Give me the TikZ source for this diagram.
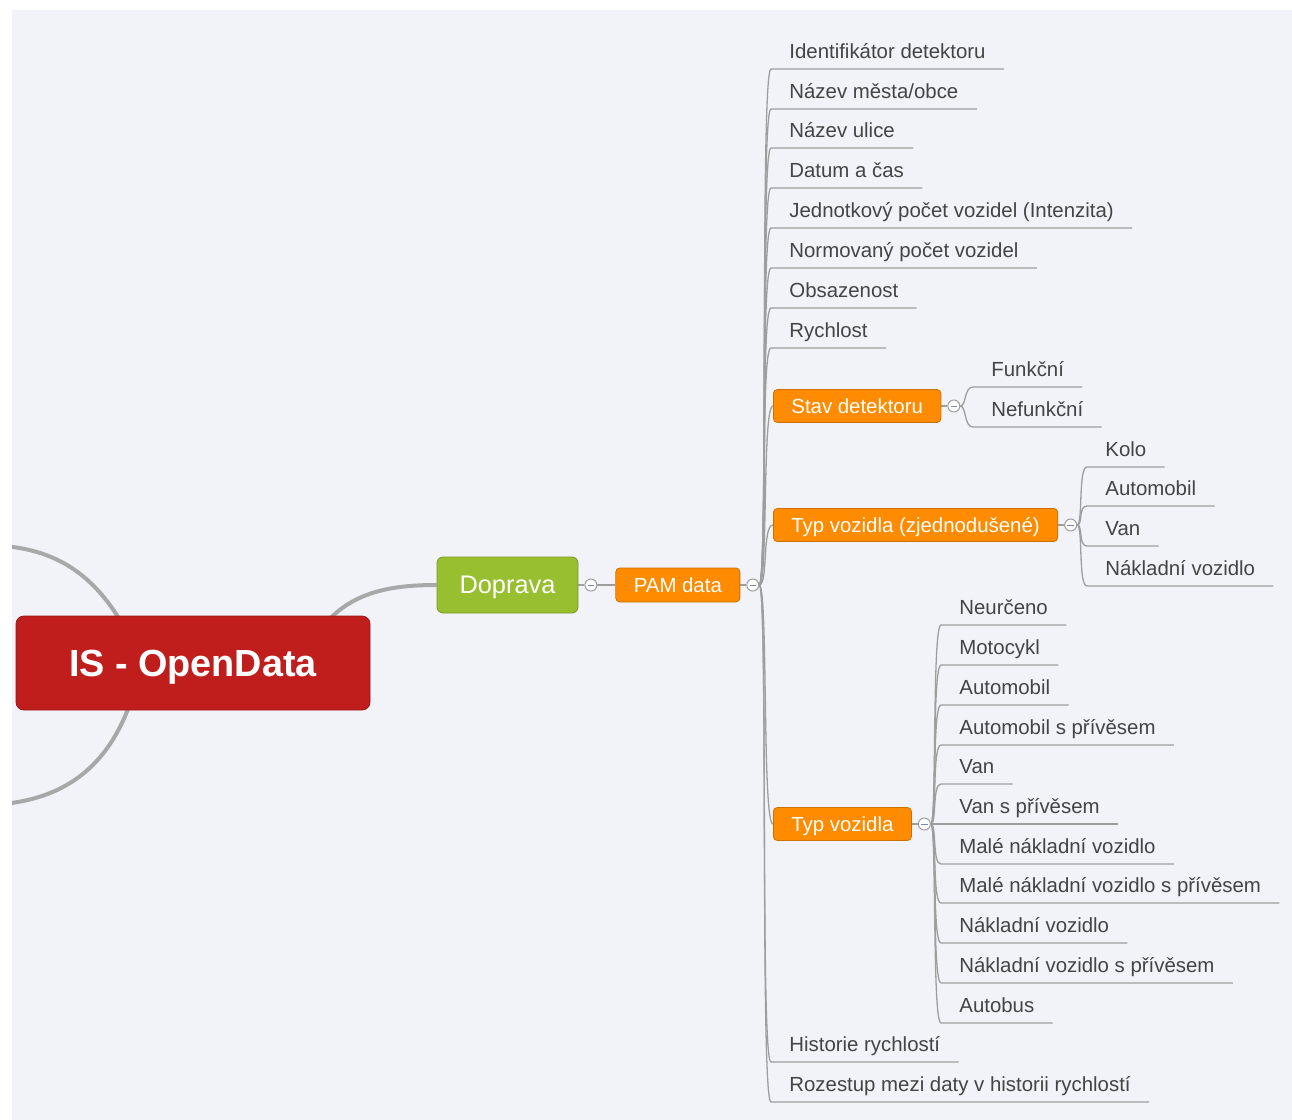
\documentclass[tikz,border=0pt]{standalone}
\usepackage{fontspec}
\setmainfont{Liberation Sans}
\usetikzlibrary{positioning,backgrounds}

\definecolor{canvas}{HTML}{F2F3F8}
\definecolor{rootred}{HTML}{C01E1C}
\definecolor{dopgreen}{HTML}{97BF30}
\definecolor{pamorange}{HTML}{FF8C00}
\definecolor{linkgray}{HTML}{9E9E9E}
\definecolor{leaftext}{HTML}{444444}
\definecolor{minusblue}{HTML}{7A88B8}

\begin{document}
\begin{tikzpicture}[x=0.5pt, y=-0.5pt]
    \tikzset{
        leaf/.style={anchor=south west, inner xsep=9pt, inner ysep=5pt,
            text depth=0pt, text=leaftext, font=\fontsize{10.2}{12}\selectfont},
        topic/.style={fill=pamorange, draw=pamorange!80!black, rounded corners=2pt,
            text=white, inner xsep=9pt, inner ysep=0pt, minimum height=16.5pt,
            text depth=0pt, font=\fontsize{10.2}{12}\selectfont},
        fold/.style={circle, draw=linkgray, fill=white, line width=0.5pt,
            minimum size=6pt, inner sep=0pt,
            path picture={\draw[minusblue, line width=0.5pt]
                ([xshift=-1.6pt]path picture bounding box.center) --
                ([xshift=1.6pt]path picture bounding box.center);}},
        branch/.style={draw=linkgray, line width=0.65pt},
        mainlink/.style={draw=linkgray!90, line width=2pt},
    }
    \useasboundingbox (0,0) rectangle (1292,1120);
    \node [fill=rootred, draw=rootred!80!black, rounded corners=4pt, text=white,
        font=\fontsize{18.9}{22}\selectfont\bfseries, text depth=0pt,
        minimum width=177pt, minimum height=47pt] (root)
        at (193,663) {IS - OpenData};
    \node [fill=dopgreen, draw=dopgreen!80!black, rounded corners=3pt, text=white,
        font=\fontsize{12.7}{15}\selectfont, text depth=0pt,
        minimum width=70.5pt, minimum height=28pt] (dop)
        at (507.5,585) {Doprava};
    \node [fold, right=3pt of dop] (dopf) {};
    \node [topic, minimum height=17pt, right=9pt of dopf] (pam) {PAM data};
    \node [fold, right=3pt of pam] (pamf) {};
    % PAM data children
    \foreach \n/\y/\txt in
        {1/69/Identifikátor detektoru, 2/109/{Název města/obce},
         3/148/Název ulice, 4/188/Datum a čas,
         5/228/Jednotkový počet vozidel (Intenzita),
         6/268/Normovaný počet vozidel, 7/308/Obsazenost, 8/348/Rychlost,
         9/1062/Historie rychlostí,
         10/1102/Rozestup mezi daty v historii rychlostí} {
        \node [leaf] (m\n) at (771,\y) {\txt};
    }
    \node [topic, anchor=west] (stav) at (773,406) {Stav detektoru};
    \node [fold, right=3pt of stav] (stavf) {};
    \node [topic, anchor=west] (typz) at (773,525) {Typ vozidla (zjednodušené)};
    \node [fold, right=3pt of typz] (typzf) {};
    \node [topic, anchor=west] (typ) at (773,824) {Typ vozidla};
    \node [fold, right=3pt of typ] (typf) {};
    % detector state
    \foreach \n/\y/\txt in {1/387/Funkční, 2/427/Nefunkční} {
        \node [leaf] (s\n) at (973,\y) {\txt};
    }
    % simplified vehicle type
    \foreach \n/\y/\txt in
        {1/467/Kolo, 2/506/Automobil, 3/546/Van, 4/586/Nákladní vozidlo} {
        \node [leaf] (z\n) at (1087,\y) {\txt};
    }
    % vehicle type
    \foreach \n/\y/\txt in
        {1/625/Neurčeno, 2/665/Motocykl, 3/705/Automobil,
         4/745/Automobil s přívěsem, 5/784/Van, 6/824/Van s přívěsem,
         7/864/Malé nákladní vozidlo, 8/903/Malé nákladní vozidlo s přívěsem,
         9/943/Nákladní vozidlo, 10/983/Nákladní vozidlo s přívěsem,
         11/1023/Autobus} {
        \node [leaf] (t\n) at (941,\y) {\txt};
    }
    \coordinate (west1) at (-20,545);
    \coordinate (west2) at (-20,805);

    \begin{scope}[on background layer]
        \fill [canvas] (12,10) rectangle (1292,1120);
        \clip (12,10) rectangle (1292,1120);
        % links of the central topic
        \draw [mainlink] ([xshift=-26pt]root.center)
            .. controls (100,560) and (40,545) .. (west1);
        \draw [mainlink] ([xshift=-26pt]root.center)
            .. controls (120,770) and (60,805) .. (west2);
        \draw [mainlink] ([xshift=53.5pt]root.center)
            .. controls (330,600) and (370,585) .. (dop.west);
        \draw [branch] (dop) -- (dopf) (dopf) -- (pam) (pam) -- (pamf)
            (stav) -- (stavf) (typz) -- (typzf) (typ) -- (typf);
        \foreach \n in {1,...,10} {
            \draw [branch] (pamf.east) .. controls +(9,0) and +(-11,0)
                .. (m\n.south west) -- (m\n.south east);
        }
        \foreach \t in {stav, typz, typ} {
            \draw [branch] (pamf.east) .. controls +(9,0) and +(-11,0)
                .. (\t.west);
        }
        \foreach \n in {1,2} {
            \draw [branch] (stavf.east) .. controls +(6,0) and +(-9,0)
                .. (s\n.south west) -- (s\n.south east);
        }
        \foreach \n in {1,...,4} {
            \draw [branch] (typzf.east) .. controls +(6,0) and +(-9,0)
                .. (z\n.south west) -- (z\n.south east);
        }
        \foreach \n in {1,...,11} {
            \draw [branch] (typf.east) .. controls +(6,0) and +(-9,0)
                .. (t\n.south west) -- (t\n.south east);
        }
    \end{scope}
\end{tikzpicture}
\end{document}
